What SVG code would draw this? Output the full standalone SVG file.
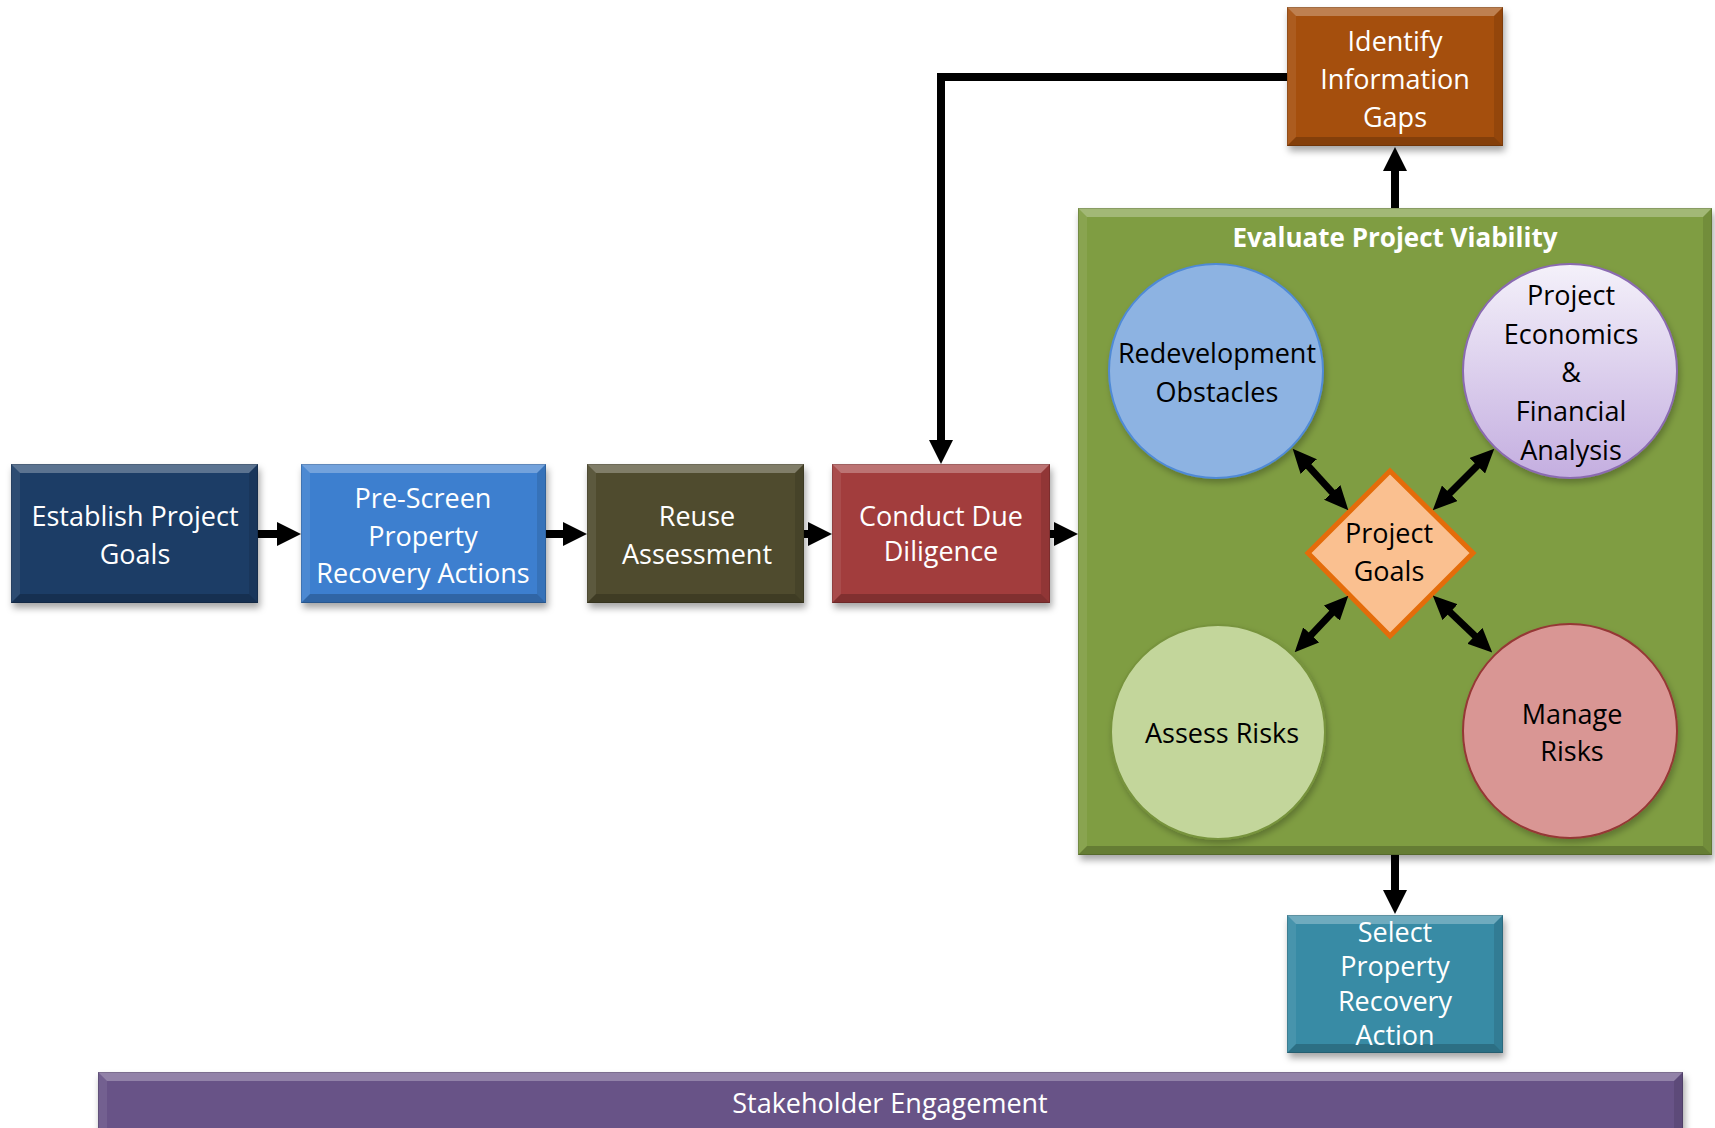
<svg xmlns="http://www.w3.org/2000/svg" width="1715" height="1128" viewBox="0 0 1715 1128">
  <style>
    .lbl { font-family: "Open Sans", "Liberation Sans", sans-serif; font-size: 27px; text-anchor: middle; }
    .w { fill: #ffffff; }
    .k { fill: #000000; }
    .title { font-weight: bold; font-size: 26px; }
    .hi { fill: #ffffff; opacity: 0.28; }
    .hi2 { fill: #ffffff; opacity: 0.08; }
    .lo { fill: #000000; opacity: 0.1; }
    .lo2 { fill: #000000; opacity: 0.2; }
    .edge { fill: none; stroke: #000000; stroke-opacity: 0.15; stroke-width: 1; }
    .flow { fill: none; stroke: #000000; stroke-width: 8; }
    .dbl { fill: none; stroke: #000000; stroke-width: 7; }
  </style>
  <defs>
    <filter id="shadow" x="-10%" y="-10%" width="120%" height="130%">
      <feDropShadow dx="2" dy="5" stdDeviation="3.5" flood-color="#000000" flood-opacity="0.35"/>
    </filter>
    <filter id="softShadow" x="-10%" y="-10%" width="125%" height="125%">
      <feDropShadow dx="2" dy="4" stdDeviation="3" flood-color="#000000" flood-opacity="0.25"/>
    </filter>
    <linearGradient id="econFill" x1="0" y1="0" x2="0" y2="1">
      <stop offset="0" stop-color="#F4F1FA"/>
      <stop offset="1" stop-color="#C4AEE0"/>
    </linearGradient>
    <marker id="head" markerUnits="userSpaceOnUse" markerWidth="24" markerHeight="24" refX="1" refY="12" orient="auto">
      <path d="M0,0 L24,12 L0,24 Z" fill="#000000"/>
    </marker>
    <marker id="head2" markerUnits="userSpaceOnUse" markerWidth="24" markerHeight="22" refX="1" refY="11" orient="auto-start-reverse">
      <path d="M0,0 L24,11 L0,22 Z" fill="#000000"/>
    </marker>
  </defs>

  <rect width="1715" height="1128" fill="#ffffff"/>

  <!-- Bottom band -->
  <g id="stakeholder-engagement">
    <g filter="url(#shadow)">
      <rect x="98" y="1072" width="1585" height="80" fill="#675287"/>
    </g>
    <polygon class="hi" points="98,1072 1683,1072 1674,1081 107,1081"/>
    <polygon class="hi2" points="98,1072 107,1081 107,1152 98,1152"/>
    <polygon class="lo" points="1683,1072 1683,1152 1674,1152 1674,1081"/>
    <rect class="edge" x="98.5" y="1072.5" width="1584" height="80"/>
    <text class="lbl w" x="890" y="1113">Stakeholder Engagement</text>
  </g>

  <!-- Process boxes -->
  <g id="establish-project-goals">
    <rect x="11" y="464" width="247" height="139" fill="#1F3D66" filter="url(#shadow)"/>
    <polygon class="hi" points="11,464 258,464 249,473 20,473"/>
    <polygon class="hi2" points="11,464 20,473 20,594 11,603"/>
    <polygon class="lo" points="258,464 258,603 249,594 249,473"/>
    <polygon class="lo2" points="11,603 20,594 249,594 258,603"/>
    <rect class="edge" x="11.5" y="464.5" width="246" height="138"/>
    <text class="lbl w" x="135" y="526">Establish Project</text>
    <text class="lbl w" x="135" y="564">Goals</text>
  </g>

  <g id="pre-screen">
    <rect x="301" y="464" width="245" height="139" fill="#3E7FCF" filter="url(#shadow)"/>
    <polygon class="hi" points="301,464 546,464 537,473 310,473"/>
    <polygon class="hi2" points="301,464 310,473 310,594 301,603"/>
    <polygon class="lo" points="546,464 546,603 537,594 537,473"/>
    <polygon class="lo2" points="301,603 310,594 537,594 546,603"/>
    <rect class="edge" x="301.5" y="464.5" width="244" height="138"/>
    <text class="lbl w" x="423" y="508">Pre-Screen</text>
    <text class="lbl w" x="423" y="546">Property</text>
    <text class="lbl w" x="423" y="583">Recovery Actions</text>
  </g>

  <g id="reuse-assessment">
    <rect x="587" y="464" width="217" height="139" fill="#504C2E" filter="url(#shadow)"/>
    <polygon class="hi" points="587,464 804,464 795,473 596,473"/>
    <polygon class="hi2" points="587,464 596,473 596,594 587,603"/>
    <polygon class="lo" points="804,464 804,603 795,594 795,473"/>
    <polygon class="lo2" points="587,603 596,594 795,594 804,603"/>
    <rect class="edge" x="587.5" y="464.5" width="216" height="138"/>
    <text class="lbl w" x="697" y="526">Reuse</text>
    <text class="lbl w" x="697" y="564">Assessment</text>
  </g>

  <g id="conduct-due-diligence">
    <rect x="832" y="464" width="218" height="139" fill="#A23C3C" filter="url(#shadow)"/>
    <polygon class="hi" points="832,464 1050,464 1041,473 841,473"/>
    <polygon class="hi2" points="832,464 841,473 841,594 832,603"/>
    <polygon class="lo" points="1050,464 1050,603 1041,594 1041,473"/>
    <polygon class="lo2" points="832,603 841,594 1041,594 1050,603"/>
    <rect class="edge" x="832.5" y="464.5" width="217" height="138"/>
    <text class="lbl w" x="941" y="526">Conduct Due</text>
    <text class="lbl w" x="941" y="561">Diligence</text>
  </g>

  <g id="identify-information-gaps">
    <rect x="1287" y="7" width="216" height="139" fill="#A5500F" filter="url(#shadow)"/>
    <polygon class="hi" points="1287,7 1503,7 1494,16 1296,16"/>
    <polygon class="hi2" points="1287,7 1296,16 1296,137 1287,146"/>
    <polygon class="lo" points="1503,7 1503,146 1494,137 1494,16"/>
    <polygon class="lo2" points="1287,146 1296,137 1494,137 1503,146"/>
    <rect class="edge" x="1287.5" y="7.5" width="215" height="138"/>
    <text class="lbl w" x="1395" y="51">Identify</text>
    <text class="lbl w" x="1395" y="89">Information</text>
    <text class="lbl w" x="1395" y="127">Gaps</text>
  </g>

  <g id="select-property-recovery-action">
    <rect x="1287" y="915" width="216" height="138" fill="#378BA5" filter="url(#shadow)"/>
    <polygon class="hi" points="1287,915 1503,915 1494,924 1296,924"/>
    <polygon class="hi2" points="1287,915 1296,924 1296,1044 1287,1053"/>
    <polygon class="lo" points="1503,915 1503,1053 1494,1044 1494,924"/>
    <polygon class="lo2" points="1287,1053 1296,1044 1494,1044 1503,1053"/>
    <rect class="edge" x="1287.5" y="915.5" width="215" height="137"/>
    <text class="lbl w" x="1395" y="942">Select</text>
    <text class="lbl w" x="1395" y="976">Property</text>
    <text class="lbl w" x="1395" y="1011">Recovery</text>
    <text class="lbl w" x="1395" y="1045">Action</text>
  </g>

  <!-- Evaluation panel with its inner nodes -->
  <g id="evaluate-project-viability">
    <rect x="1078" y="208" width="634" height="647" fill="#7F9D43" filter="url(#shadow)"/>
    <polygon class="hi" points="1078,208 1712,208 1703,217 1087,217"/>
    <polygon class="hi2" points="1078,208 1087,217 1087,846 1078,855"/>
    <polygon class="lo" points="1712,208 1712,855 1703,846 1703,217"/>
    <polygon class="lo2" points="1078,855 1087,846 1703,846 1712,855"/>
    <rect class="edge" x="1078.5" y="208.5" width="633" height="646"/>
    <text class="lbl w title" x="1395" y="247">Evaluate Project Viability</text>
  </g>

  <g id="redevelopment-obstacles">
    <circle cx="1216" cy="371" r="107" fill="#8DB3E2" stroke="#4F8AD6" stroke-width="2" filter="url(#softShadow)"/>
    <text class="lbl k" x="1217" y="363">Redevelopment</text>
    <text class="lbl k" x="1217" y="402">Obstacles</text>
  </g>

  <g id="project-economics">
    <circle cx="1570" cy="371" r="107" fill="url(#econFill)" stroke="#8A6BB0" stroke-width="2" filter="url(#softShadow)"/>
    <text class="lbl k" x="1571" y="305">Project</text>
    <text class="lbl k" x="1571" y="344">Economics</text>
    <text class="lbl k" x="1571" y="382">&amp;</text>
    <text class="lbl k" x="1571" y="421">Financial</text>
    <text class="lbl k" x="1571" y="460">Analysis</text>
  </g>

  <g id="assess-risks">
    <circle cx="1218" cy="732" r="107" fill="#C3D69B" stroke="#77933C" stroke-width="2" filter="url(#softShadow)"/>
    <text class="lbl k" x="1222" y="743">Assess Risks</text>
  </g>

  <g id="manage-risks">
    <circle cx="1570" cy="731" r="107" fill="#D99694" stroke="#953735" stroke-width="2" filter="url(#softShadow)"/>
    <text class="lbl k" x="1572" y="724">Manage</text>
    <text class="lbl k" x="1572" y="761">Risks</text>
  </g>

  <g id="project-goals">
    <polygon points="1390,471 1473,553 1390,636 1308,553" fill="#FAC090" stroke="#E46C0A" stroke-width="5" stroke-linejoin="miter"/>
    <text class="lbl k" x="1389" y="543">Project</text>
    <text class="lbl k" x="1389" y="581">Goals</text>
  </g>

  <!-- Connectors -->
  <g id="connectors">
    <line class="flow" x1="258" y1="534" x2="278" y2="534" marker-end="url(#head)"/>
    <line class="flow" x1="546" y1="534" x2="564" y2="534" marker-end="url(#head)"/>
    <line class="flow" x1="804" y1="534" x2="809" y2="534" marker-end="url(#head)"/>
    <line class="flow" x1="1050" y1="534" x2="1055" y2="534" marker-end="url(#head)"/>
    <path class="flow" d="M1287,77 H941 V441" stroke-linejoin="miter" marker-end="url(#head)"/>
    <line class="flow" x1="1395" y1="208" x2="1395" y2="170" marker-end="url(#head)"/>
    <line class="flow" x1="1395" y1="855" x2="1395" y2="891" marker-end="url(#head)"/>
    <line class="dbl" x1="1308.1" y1="465.8" x2="1332.9" y2="493.2" marker-start="url(#head2)" marker-end="url(#head2)"/>
    <line class="dbl" x1="1478" y1="465" x2="1449" y2="494" marker-start="url(#head2)" marker-end="url(#head2)"/>
    <line class="dbl" x1="1332.5" y1="612.4" x2="1310.5" y2="635.6" marker-start="url(#head2)" marker-end="url(#head2)"/>
    <line class="dbl" x1="1449.4" y1="611.5" x2="1475.6" y2="636.5" marker-start="url(#head2)" marker-end="url(#head2)"/>
  </g>
</svg>
